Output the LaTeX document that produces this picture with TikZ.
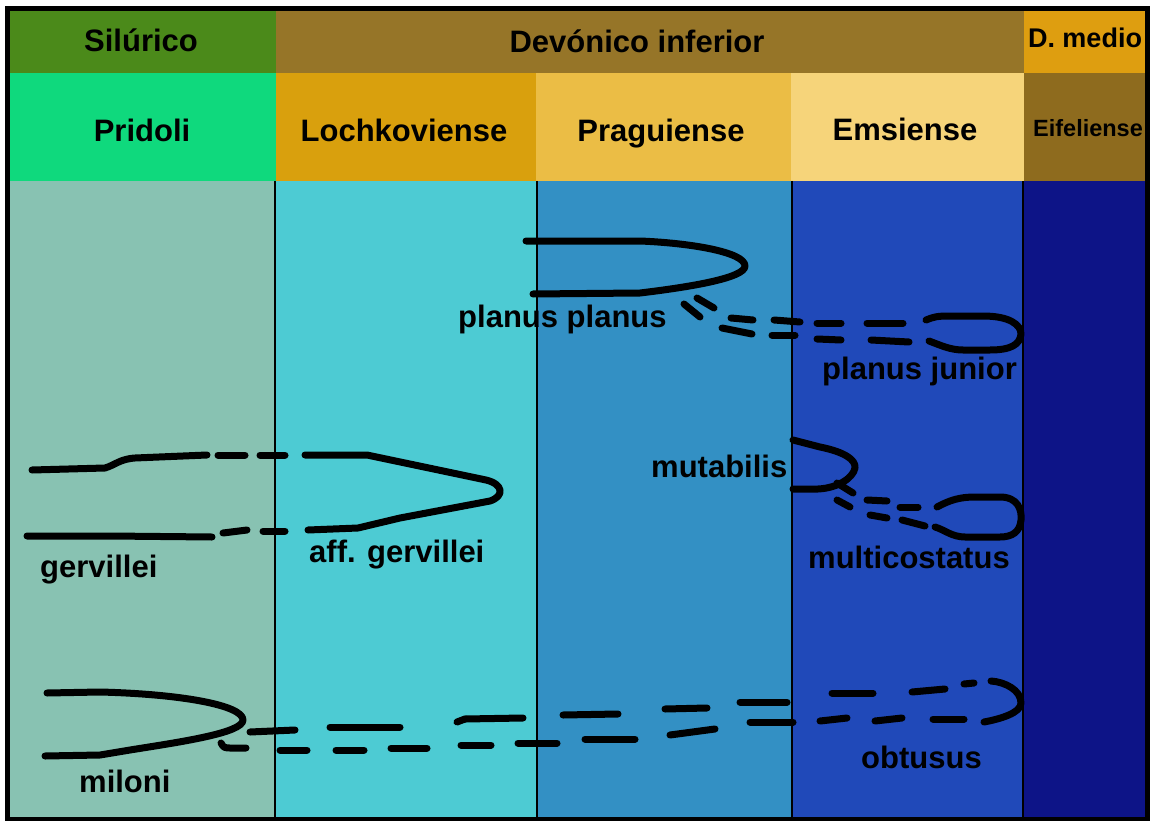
\documentclass[tikz,border=0pt]{standalone}
\usepackage{fontspec}
\setmainfont{Liberation Sans}
\definecolor{silur}{HTML}{4B8A1A}
\definecolor{devinf}{HTML}{967528}
\definecolor{devmed}{HTML}{DE9E10}
\definecolor{pridoli}{HTML}{0FD97D}
\definecolor{lochk}{HTML}{D9A00D}
\definecolor{prag}{HTML}{EBBD45}
\definecolor{ems}{HTML}{F6D47A}
\definecolor{eifel}{HTML}{8E6B1E}
\definecolor{bpridoli}{HTML}{88C2B2}
\definecolor{blochk}{HTML}{4DCBD3}
\definecolor{bprag}{HTML}{3390C4}
\definecolor{bems}{HTML}{2049B9}
\definecolor{beifel}{HTML}{0D1487}
\begin{document}
\begin{tikzpicture}[x=1pt,y=-1pt,
  cab/.style={font=\fontsize{31}{37}\selectfont\bfseries,inner sep=0pt,anchor=base},
  lab/.style={font=\fontsize{31}{37}\selectfont\bfseries,inner sep=0pt,anchor=base west},
  trazo/.style={line width=7pt,line cap=round,line join=round}]
\useasboundingbox (0,0) rectangle (1150,821);
\fill[white] (0,0) rectangle (1150,821);
\fill[silur] (8,10) rectangle (276,73);
\fill[devinf] (276,10) rectangle (1024,73);
\fill[devmed] (1024,10) rectangle (1147,73);
\fill[pridoli] (8,73) rectangle (276,181);
\fill[lochk] (276,73) rectangle (536,181);
\fill[prag] (536,73) rectangle (791,181);
\fill[ems] (791,73) rectangle (1024,181);
\fill[eifel] (1024,73) rectangle (1147,181);
\fill[bpridoli] (8,181) rectangle (275,819);
\fill[blochk] (275,181) rectangle (537,819);
\fill[bprag] (537,181) rectangle (792,819);
\fill[bems] (792,181) rectangle (1023,819);
\fill[beifel] (1023,181) rectangle (1147,819);
\foreach \xv in {275,537,792,1023}
  \draw[line width=2pt] (\xv,181) -- (\xv,819);
\draw[line width=5pt] (7.5,9) rectangle (1147.5,819.5);
\node[cab] (silurico) at (141,52) {Silúrico};
\node[cab] (devinferior) at (637,53) {Devónico inferior};
\node[cab,font=\fontsize{27}{32}\selectfont\bfseries] (dmedio) at (1085,48) {D. medio};
\node[cab] (pridoli) at (142,142) {Pridoli};
\node[cab] (lochkoviense) at (404,142) {Lochkoviense};
\node[cab] (praguiense) at (661,142) {Praguiense};
\node[cab] (emsiense) at (905,141) {Emsiense};
\node[cab,font=\fontsize{23.5}{28}\selectfont\bfseries] (eifeliense) at (1088,137) {Eifeliense};
\draw[trazo] (526,241) -- (640,241) .. controls (690,243) and (745,252) .. (745,266)
  .. controls (745,278) and (690,287) .. (640,293) -- (533,294);
\foreach \xa/\ya/\xb/\yb in {684/304/700/317, 697/298/714/308, 731/318/753/320,
  774/320/800/322, 817/323/841/323, 867/323/903/323, 722/328/752/334,
  772/335/795/335, 817/339/841/340, 871/340/909/342}
  \draw[trazo] (\xa,\ya) -- (\xb,\yb);
\draw[trazo] (926,320) .. controls (933,317) and (938,316) .. (948,316) -- (983,316)
  .. controls (1010,316) and (1021,325) .. (1021,334)
  .. controls (1020,345) and (1010,350) .. (990,350) -- (963,350)
  .. controls (950,350) and (940,345) .. (929,341);
\node[lab] (planusplanus) at (458,327) {planus planus};
\node[lab] (planusjunior) at (822,379) {planus junior};
\draw[trazo] (32,470) -- (105,468) .. controls (115,465) and (120,459) .. (135,458) -- (207,455);
\draw[trazo] (27,536) -- (110,536) -- (212,537);
\foreach \xa/\ya/\xb/\yb in {218/455/245/455, 260/455/285/455, 223/533/247/530,
  263/531/285/531}
  \draw[trazo] (\xa,\ya) -- (\xb,\yb);
\draw[trazo] (305,455) -- (367,455) -- (486,480) .. controls (503,484) and (505,496) .. (490,501)
  -- (400,518) -- (358,528) -- (308,530);
\node[lab] (gervillei) at (40,577) {gervillei};
\node[lab] (affgervillei) at (309,562) {aff. gervillei};
\draw[trazo] (793,440) -- (820,447) .. controls (845,452) and (856,460) .. (855,468)
  .. controls (853,478) and (838,488) .. (818,489) -- (793,489);
\foreach \xa/\ya/\xb/\yb in {837/483/853/493, 837/500/850/507, 867/500/887/501,
  900/507/918/507, 870/515/887/518, 902/520/925/526}
  \draw[trazo] (\xa,\ya) -- (\xb,\yb);
\draw[trazo] (937,507) .. controls (950,500) and (960,497) .. (975,497) -- (1000,497)
  .. controls (1018,497) and (1022,510) .. (1021,520)
  .. controls (1020,532) and (1012,537) .. (1000,537) -- (965,537)
  .. controls (952,537) and (945,530) .. (935,527);
\node[lab] (mutabilis) at (651,477) {mutabilis};
\node[lab] (multicostatus) at (808,568) {multicostatus};
\draw[trazo] (47,693) -- (100,692) .. controls (180,694) and (243,705) .. (243,720)
  .. controls (243,733) and (180,742) .. (130,750) -- (100,755) -- (45,756);
\draw[trazo] (221,743) .. controls (224,748) .. (232,748) -- (246,748);
\foreach \xa/\ya/\xb/\yb in {250/732/295/730, 280/750/307/750, 336/750/364/750,
  391/748/427/748, 461/745/491/745, 518/743/557/743, 585/739/635/739,
  670/735/715/729, 750/722/793/722, 820/721/847/718, 875/721/902/718,
  933/719/964/719, 330/727/400/727, 465/719/523/718, 563/715/618/714,
  665/709/707/708, 740/702/787/702, 832/693/873/693, 912/692/945/689,
  964/684/974/683}
  \draw[trazo] (\xa,\ya) -- (\xb,\yb);
\draw[trazo] (457,722) -- (465,719);
\draw[trazo] (984,722) .. controls (1000,719) and (1021,713) .. (1021,703)
  .. controls (1021,690) and (1005,682) .. (991,681);
\node[lab] (miloni) at (79,792) {miloni};
\node[lab] (obtusus) at (861,768) {obtusus};
\end{tikzpicture}
\end{document}
